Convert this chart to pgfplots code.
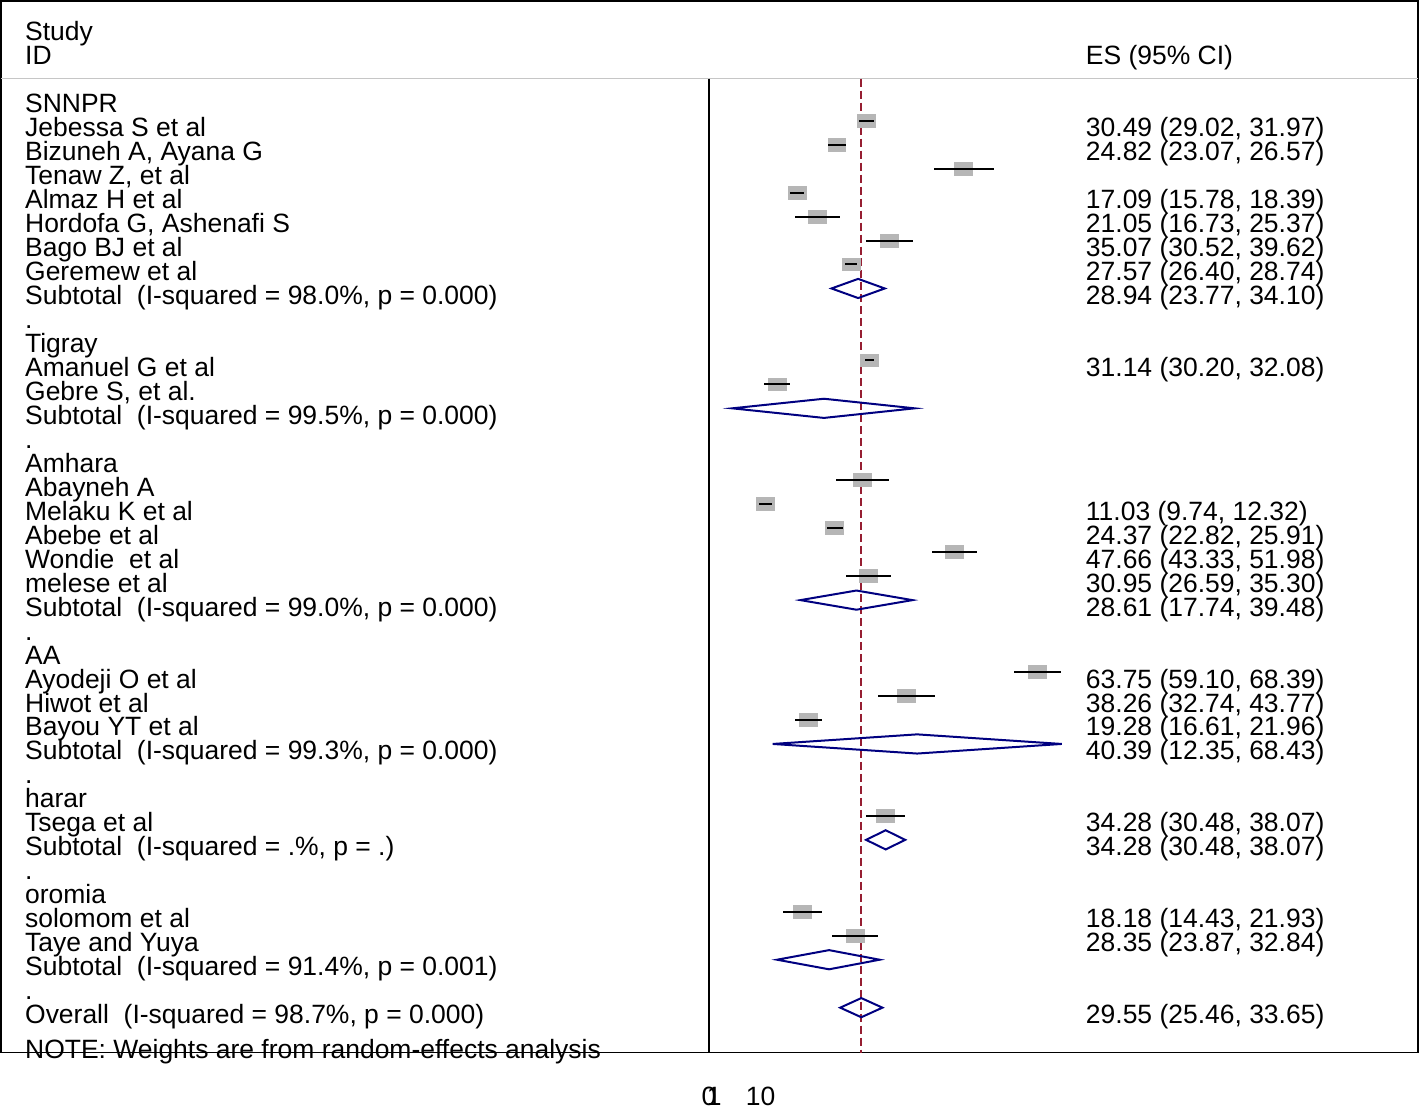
\documentclass[border=0pt]{standalone}
\usepackage{fontspec}
\setmainfont{Liberation Sans}
\usepackage{pgfplots}
\pgfplotsset{compat=1.18}
\usepackage{pgfplotstable}

\definecolor{navy}{RGB}{0,0,128}
\definecolor{nullred}{RGB}{150,30,50}
\definecolor{boxgray}{RGB}{182,182,182}

% row k, estimate, lower, upper
\pgfplotstableread{
k es lo hi
1 30.49 29.02 31.97
2 24.82 23.07 26.57
3 49.4 43.6 55.2
4 17.09 15.78 18.39
5 21.05 16.73 25.37
6 35.07 30.52 39.62
7 27.57 26.40 28.74
11 31.14 30.20 32.08
12 13.2 10.7 15.7
16 29.7 24.6 34.9
17 11.03 9.74 12.32
18 24.37 22.82 25.91
19 47.66 43.33 51.98
20 30.95 26.59 35.30
24 63.75 59.10 68.39
25 38.26 32.74 43.77
26 19.28 16.61 21.96
30 34.28 30.48 38.07
34 18.18 14.43 21.93
35 28.35 23.87 32.84
}\studies

\newcommand{\lab}[2]{\node[anchor=base west,inner sep=0pt] at (axis cs:-132.75,#1) {#2};}
\newcommand{\est}[2]{\node[anchor=base west,inner sep=0pt] at (axis cs:73.06,#1) {#2};}

\begin{document}
\begin{tikzpicture}[font=\fontsize{13.25bp}{15bp}\selectfont]
\begin{axis}[
  set layers,
  scale only axis,
  width=709.5bp, height=526.5bp,
  xmin=-137.4, xmax=137.6,
  ymin=-4, ymax=39.875,
  y dir=reverse,
  clip=false,
  axis line style={line width=0.8bp},
  xtick={0,1,10},
  ytick=\empty,
  major tick length=0pt,
  xticklabel style={anchor=base, yshift=-26.5bp, inner sep=0pt},
  /pgf/number format/assume math mode=true,
]
% header rule and null line
\draw[gray!45, line width=0.8bp] (axis cs:-137.4,-0.75) -- (axis cs:137.6,-0.75);
\addplot[black, line width=0.8bp] coordinates {(0,-0.75) (0,39.875)};
\addplot[nullred, line width=0.9bp, dash pattern=on 4bp off 2bp] coordinates {(29.55,-0.75) (29.55,39.875)};

% study boxes (behind) and CIs (on top)
\addplot[on layer=axis background, draw=none, mark=square*, mark size=3.2bp,
  mark options={fill=boxgray, draw=boxgray, xscale=1.4}] table[x=es, y=k] {\studies};
\addplot[on layer=axis foreground, draw=none, mark=none,
  error bars/.cd, x dir=both, x explicit, error mark=none,
  error bar style={draw=black, line width=1bp}]
  table[x=es, y=k, x error plus expr=\thisrow{hi}-\thisrow{es},
        x error minus expr=\thisrow{es}-\thisrow{lo}] {\studies};

% pooled diamonds
\addplot[navy, line width=1bp] coordinates {(23.77,8) (28.94,7.6) (34.10,8) (28.94,8.4)} -- cycle;
\addplot[navy, line width=1bp] coordinates {(4.5,13) (22.3,12.6) (39.9,13) (22.3,13.4)} -- cycle;
\addplot[navy, line width=1bp] coordinates {(17.74,21) (28.61,20.6) (39.48,21) (28.61,21.4)} -- cycle;
\addplot[navy, line width=1bp] coordinates {(12.35,27) (40.39,26.6) (68.43,27) (40.39,27.4)} -- cycle;
\addplot[navy, line width=1bp] coordinates {(30.48,31) (34.28,30.6) (38.07,31) (34.28,31.4)} -- cycle;
\addplot[navy, line width=1bp] coordinates {(13.2,36) (23.3,35.6) (33.1,36) (23.3,36.4)} -- cycle;
\addplot[navy, line width=1bp] coordinates {(25.46,38) (29.55,37.6) (33.65,38) (29.55,38.4)} -- cycle;

% headers
\lab{-2.333}{Study}
\lab{-1.333}{ID}
\est{-1.333}{ES (95\% CI)}

% labels (baseline = row + 0.667)
\lab{0.667}{SNNPR}
\lab{1.667}{Jebessa S et al}
\lab{2.667}{Bizuneh A, Ayana G}
\lab{3.667}{Tenaw Z, et al}
\lab{4.667}{Almaz H et al}
\lab{5.667}{Hordofa G, Ashenafi S}
\lab{6.667}{Bago BJ et al}
\lab{7.667}{Geremew et al}
\lab{8.667}{Subtotal~~(I-squared = 98.0\%, p = 0.000)}
\lab{9.667}{.}
\lab{10.667}{Tigray}
\lab{11.667}{Amanuel G et al}
\lab{12.667}{Gebre S, et al.}
\lab{13.667}{Subtotal~~(I-squared = 99.5\%, p = 0.000)}
\lab{14.667}{.}
\lab{15.667}{Amhara}
\lab{16.667}{Abayneh A}
\lab{17.667}{Melaku K et al}
\lab{18.667}{Abebe et al}
\lab{19.667}{Wondie~~et al}
\lab{20.667}{melese et al}
\lab{21.667}{Subtotal~~(I-squared = 99.0\%, p = 0.000)}
\lab{22.667}{.}
\lab{23.667}{AA}
\lab{24.667}{Ayodeji O et al}
\lab{25.667}{Hiwot et al}
\lab{26.667}{Bayou YT et al}
\lab{27.667}{Subtotal~~(I-squared = 99.3\%, p = 0.000)}
\lab{28.667}{.}
\lab{29.667}{harar}
\lab{30.667}{Tsega et al}
\lab{31.667}{Subtotal~~(I-squared = .\%, p = .)}
\lab{32.667}{.}
\lab{33.667}{oromia}
\lab{34.667}{solomom et al}
\lab{35.667}{Taye and Yuya}
\lab{36.667}{Subtotal~~(I-squared = 91.4\%, p = 0.001)}
\lab{37.667}{.}
\lab{38.667}{Overall~~(I-squared = 98.7\%, p = 0.000)}
\lab{40.125}{NOTE: Weights are from random-effects analysis}

% estimates
\est{1.667}{30.49 (29.02, 31.97)}
\est{2.667}{24.82 (23.07, 26.57)}
\est{4.667}{17.09 (15.78, 18.39)}
\est{5.667}{21.05 (16.73, 25.37)}
\est{6.667}{35.07 (30.52, 39.62)}
\est{7.667}{27.57 (26.40, 28.74)}
\est{8.667}{28.94 (23.77, 34.10)}
\est{11.667}{31.14 (30.20, 32.08)}
\est{17.667}{11.03 (9.74, 12.32)}
\est{18.667}{24.37 (22.82, 25.91)}
\est{19.667}{47.66 (43.33, 51.98)}
\est{20.667}{30.95 (26.59, 35.30)}
\est{21.667}{28.61 (17.74, 39.48)}
\est{24.667}{63.75 (59.10, 68.39)}
\est{25.667}{38.26 (32.74, 43.77)}
\est{26.667}{19.28 (16.61, 21.96)}
\est{27.667}{40.39 (12.35, 68.43)}
\est{30.667}{34.28 (30.48, 38.07)}
\est{31.667}{34.28 (30.48, 38.07)}
\est{34.667}{18.18 (14.43, 21.93)}
\est{35.667}{28.35 (23.87, 32.84)}
\est{38.667}{29.55 (25.46, 33.65)}
\end{axis}
% keep a little room under the tick labels
\path ([yshift=-28.5bp]current axis.south west);
\end{tikzpicture}
\end{document}
